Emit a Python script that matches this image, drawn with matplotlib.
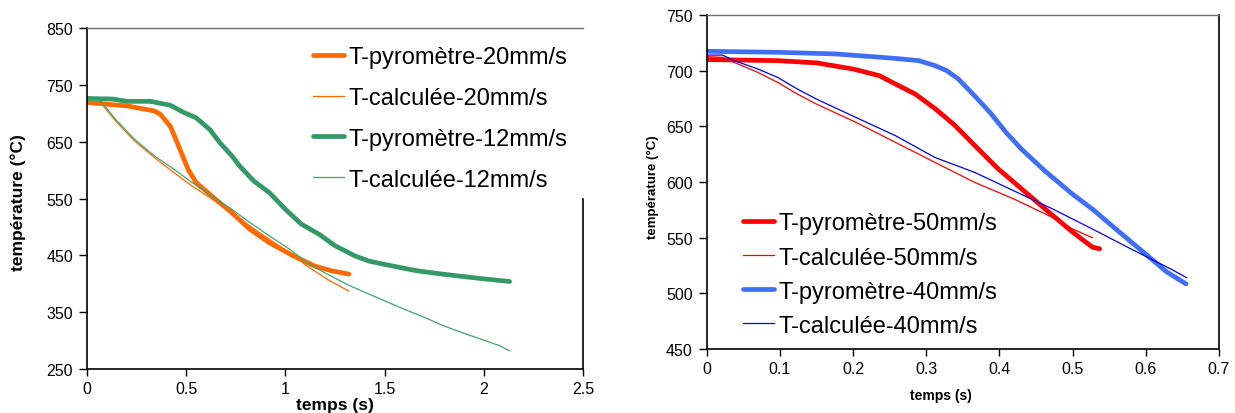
import matplotlib
matplotlib.use("Agg")
import matplotlib.pyplot as plt

plt.rcParams['font.family'] = ['Liberation Sans', 'DejaVu Sans']

# ---- Left chart data ----
t_pyro20 = [0, 0.2, 0.34, 0.37, 0.42, 0.455, 0.51, 0.55, 0.63, 0.73, 0.82, 0.92, 1.04, 1.15, 1.23, 1.32]
T_pyro20 = [719, 713, 704, 698, 677, 648, 601, 578, 554, 525, 496, 472, 449, 431, 423, 417]
t_calc20 = [0, 0.07, 0.145, 0.24, 0.34, 0.44, 0.53, 0.63, 0.73, 0.82, 0.92, 1.02, 1.11, 1.21, 1.32]
T_calc20 = [721, 718, 686, 651, 622, 595, 572, 549, 525, 502, 478, 455, 431, 408, 387]
t_pyro12 = [0, 0.13, 0.2, 0.32, 0.42, 0.49, 0.55, 0.62, 0.67, 0.73, 0.77, 0.84, 0.92, 1.0, 1.08,
            1.17, 1.25, 1.35, 1.42, 1.5, 1.66, 1.79, 1.99, 2.13]
T_pyro12 = [726, 725, 721, 721, 714, 701, 692, 671, 648, 625, 607, 581, 560, 531, 505,
            487, 467, 449, 440, 434, 423, 417, 409, 404]
t_calc12 = [0, 0.07, 0.145, 0.24, 0.34, 0.44, 0.53, 0.63, 0.73, 0.82, 0.92, 1.02, 1.11, 1.21,
            1.31, 1.4, 1.5, 1.6, 1.7, 1.79, 1.89, 1.99, 2.08, 2.13]
T_calc12 = [725, 721, 689, 654, 625, 601, 578, 554, 531, 508, 484, 461, 437, 417,
            399, 385, 370, 355, 341, 327, 314, 302, 291, 282]

# ---- Right chart data ----
t_pyro50 = [0, 0.097, 0.15, 0.2, 0.236, 0.258, 0.285, 0.312, 0.339, 0.366, 0.398, 0.43, 0.462, 0.5, 0.527, 0.537]
T_pyro50 = [710, 709, 707, 701.5, 695.5, 688, 679, 666, 651, 633, 612, 594, 576, 555, 541.5, 540]
t_calc50 = [0, 0.0215, 0.043, 0.07, 0.097, 0.124, 0.15, 0.204, 0.258, 0.312, 0.366, 0.42, 0.473, 0.5, 0.527]
T_calc50 = [712.6, 712, 706, 698.5, 689.5, 679, 670, 653.6, 635.6, 617.6, 599.7, 584.7, 568, 557.8, 550]
t_pyro40 = [0, 0.097, 0.177, 0.258, 0.29, 0.312, 0.328, 0.344, 0.366, 0.387, 0.409, 0.43, 0.462,
            0.5, 0.527, 0.559, 0.597, 0.629, 0.655]
T_pyro40 = [717.4, 716.5, 715, 711, 709, 704.5, 700, 692.5, 677.5, 662.6, 644.6, 629.6, 610,
            589, 575.7, 557.8, 536.8, 519, 508.5]
t_calc40 = [0, 0.0215, 0.038, 0.07, 0.097, 0.124, 0.15, 0.204, 0.258, 0.312, 0.366, 0.42, 0.473,
            0.527, 0.58, 0.634, 0.656]
T_calc40 = [714, 714, 709, 701.5, 694, 683.5, 674.5, 658, 641.6, 622, 608.7, 592, 575.7,
            557.8, 539.8, 521.9, 514]

left_xticks = [0, 0.5, 1, 1.5, 2, 2.5]
left_xticklabels = ['0', '0.5', '1', '1.5', '2', '2.5']
left_yticks = [250, 350, 450, 550, 650, 750, 850]
right_xticks = [0, 0.1, 0.2, 0.3, 0.4, 0.5, 0.6, 0.7]
right_xticklabels = ['0', '0.1', '0.2', '0.3', '0.4', '0.5', '0.6', '0.7']
right_yticks = [450, 500, 550, 600, 650, 700, 750]

W, H = 1235, 414
fig = plt.figure(figsize=(W / 100, H / 100), dpi=100)


def px_axes(l, r, t, b):
    return fig.add_axes([l / W, 1 - b / H, (r - l) / W, (b - t) / H])


def style(ax, tick_fs):
    for s in ['left', 'bottom', 'right']:
        ax.spines[s].set_color('black')
        ax.spines[s].set_linewidth(1.2)
    ax.spines['top'].set_color('#707070')
    ax.spines['top'].set_linewidth(1.0)
    ax.tick_params(axis='both', direction='out', length=5, width=1.0, labelsize=tick_fs, pad=4)
    ax.tick_params(axis='y', length=6)


ORANGE = '#FF6A00'
GREEN = '#339966'
GREEN_T = '#3DA66E'
RED = '#FF0000'
BLUE = '#3F6FF5'
BLUE_T = '#0000EE'

# Left axes
ax1 = px_axes(87, 583, 29, 370)
ax1.plot(t_pyro20, T_pyro20, color=ORANGE, lw=3.4, label='T-pyromètre-20mm/s', solid_capstyle='round')
ax1.plot(t_calc20, T_calc20, color=ORANGE, lw=0.9, label='T-calculée-20mm/s')
ax1.plot(t_pyro12, T_pyro12, color=GREEN, lw=3.4, label='T-pyromètre-12mm/s', solid_capstyle='round')
ax1.plot(t_calc12, T_calc12, color=GREEN_T, lw=0.9, label='T-calculée-12mm/s')
ax1.set_xlim(0, 2.5)
ax1.set_ylim(250, 850)
ax1.set_xticks(left_xticks)
ax1.set_xticklabels(left_xticklabels)
ax1.set_yticks(left_yticks)
style(ax1, 11.5)
ax1.spines['right'].set_bounds(250, 549)
ax1.set_xlabel('temps (s)', fontsize=12.5, fontweight='bold', va='center')
ax1.xaxis.set_label_coords(0.5, -0.105)
ax1.set_ylabel('température (°C)', fontsize=12.5, fontweight='bold', va='center')
ax1.yaxis.set_label_coords(-0.139, 0.49)
ax1.legend(loc='upper left', bbox_to_anchor=(0.432, 0.982), fontsize=17, frameon=False,
           handlelength=1.3, handletextpad=0.2, labelspacing=0.8, borderpad=0.5, borderaxespad=0)

# Right axes
ax2 = px_axes(706.6, 1219, 16, 350)
ax2.plot(t_pyro50, T_pyro50, color=RED, lw=3.4, label='T-pyromètre-50mm/s', solid_capstyle='round')
ax2.plot(t_calc50, T_calc50, color=RED, lw=0.9, label='T-calculée-50mm/s')
ax2.plot(t_pyro40, T_pyro40, color=BLUE, lw=3.4, label='T-pyromètre-40mm/s', solid_capstyle='round')
ax2.plot(t_calc40, T_calc40, color=BLUE_T, lw=0.9, label='T-calculée-40mm/s')
ax2.set_xlim(0, 0.7)
ax2.set_ylim(450, 750)
ax2.set_xticks(right_xticks)
ax2.set_xticklabels(right_xticklabels)
ax2.set_yticks(right_yticks)
style(ax2, 11.5)
ax2.set_xlabel('temps (s)', fontsize=10, fontweight='bold', va='center')
ax2.xaxis.set_label_coords(0.457, -0.138)
ax2.set_ylabel('température (°C)', fontsize=9.5, fontweight='bold', va='center')
ax2.yaxis.set_label_coords(-0.105, 0.488)
ax2.legend(loc='upper left', bbox_to_anchor=(0.053, 0.437), fontsize=17, frameon=False,
           handlelength=1.3, handletextpad=0.2, labelspacing=0.51, borderaxespad=0)

fig.savefig('out.png', dpi=100)
